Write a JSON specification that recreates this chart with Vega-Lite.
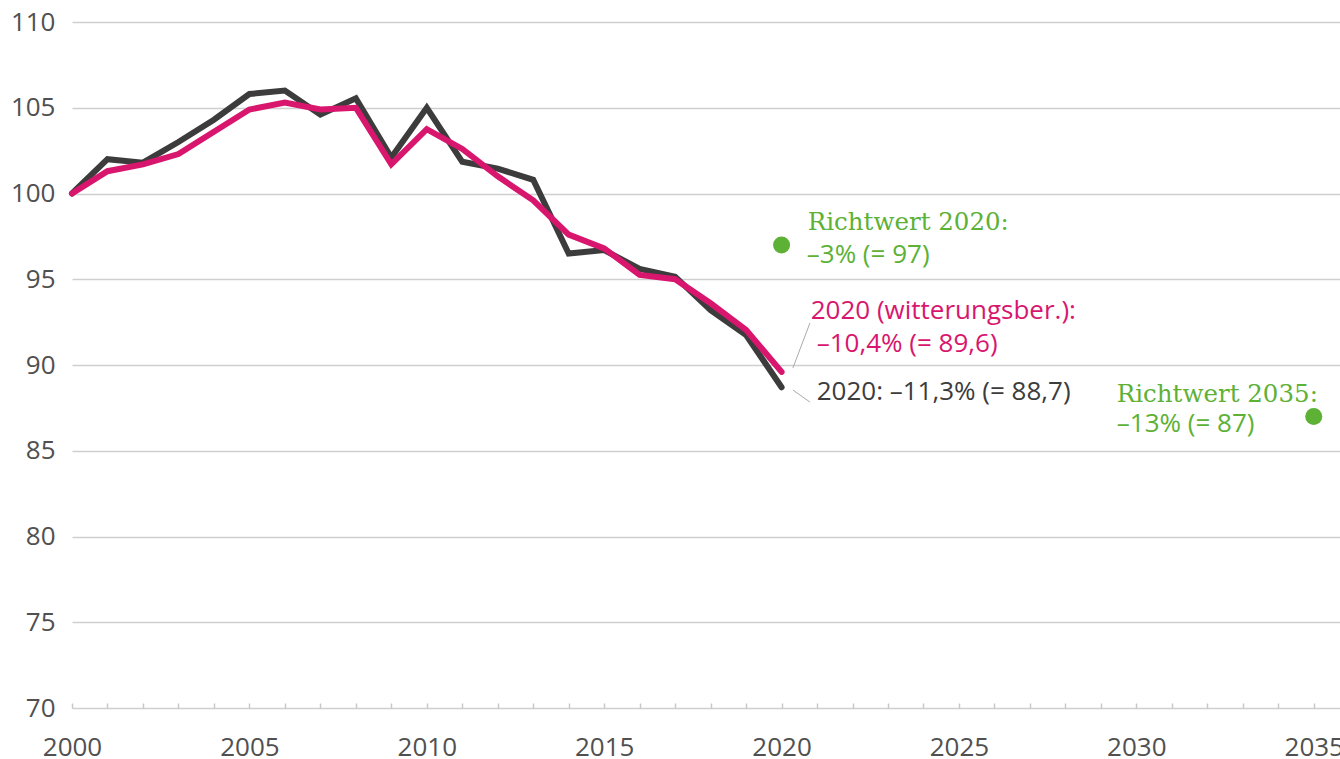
{
  "$schema": "https://vega.github.io/schema/vega-lite/v6.json",
  "width": 1268,
  "height": 686,
  "autosize": "none",
  "padding": {"left": 72, "top": 22, "right": 0, "bottom": 51},
  "background": "white",
  "config": {
    "view": {"stroke": null},
    "font": "Open Sans"
  },
  "datasets": {
    "gemessen": [
      {"x": 2000, "y": 100.0, "series": "gemessen"},
      {"x": 2001, "y": 102.0, "series": "gemessen"},
      {"x": 2002, "y": 101.8, "series": "gemessen"},
      {"x": 2003, "y": 103.0, "series": "gemessen"},
      {"x": 2004, "y": 104.3, "series": "gemessen"},
      {"x": 2005, "y": 105.8, "series": "gemessen"},
      {"x": 2006, "y": 106.0, "series": "gemessen"},
      {"x": 2007, "y": 104.6, "series": "gemessen"},
      {"x": 2008, "y": 105.55, "series": "gemessen"},
      {"x": 2009, "y": 102.1, "series": "gemessen"},
      {"x": 2010, "y": 105.0, "series": "gemessen"},
      {"x": 2011, "y": 101.85, "series": "gemessen"},
      {"x": 2012, "y": 101.45, "series": "gemessen"},
      {"x": 2013, "y": 100.8, "series": "gemessen"},
      {"x": 2014, "y": 96.5, "series": "gemessen"},
      {"x": 2015, "y": 96.7, "series": "gemessen"},
      {"x": 2016, "y": 95.6, "series": "gemessen"},
      {"x": 2017, "y": 95.15, "series": "gemessen"},
      {"x": 2018, "y": 93.2, "series": "gemessen"},
      {"x": 2019, "y": 91.75, "series": "gemessen"},
      {"x": 2020, "y": 88.7, "series": "gemessen"}
    ],
    "witterung": [
      {"x": 2000, "y": 100.0, "series": "witterungsbereinigt"},
      {"x": 2001, "y": 101.3, "series": "witterungsbereinigt"},
      {"x": 2002, "y": 101.7, "series": "witterungsbereinigt"},
      {"x": 2003, "y": 102.3, "series": "witterungsbereinigt"},
      {"x": 2004, "y": 103.6, "series": "witterungsbereinigt"},
      {"x": 2005, "y": 104.9, "series": "witterungsbereinigt"},
      {"x": 2006, "y": 105.3, "series": "witterungsbereinigt"},
      {"x": 2007, "y": 104.9, "series": "witterungsbereinigt"},
      {"x": 2008, "y": 105.0, "series": "witterungsbereinigt"},
      {"x": 2009, "y": 101.7, "series": "witterungsbereinigt"},
      {"x": 2010, "y": 103.75, "series": "witterungsbereinigt"},
      {"x": 2011, "y": 102.6, "series": "witterungsbereinigt"},
      {"x": 2012, "y": 101.0, "series": "witterungsbereinigt"},
      {"x": 2013, "y": 99.6, "series": "witterungsbereinigt"},
      {"x": 2014, "y": 97.6, "series": "witterungsbereinigt"},
      {"x": 2015, "y": 96.8, "series": "witterungsbereinigt"},
      {"x": 2016, "y": 95.25, "series": "witterungsbereinigt"},
      {"x": 2017, "y": 95.0, "series": "witterungsbereinigt"},
      {"x": 2018, "y": 93.6, "series": "witterungsbereinigt"},
      {"x": 2019, "y": 92.05, "series": "witterungsbereinigt"},
      {"x": 2020, "y": 89.6, "series": "witterungsbereinigt"}
    ],
    "richtwerte": [
      {"x": 2020, "y": 97, "series": "Richtwert"},
      {"x": 2035, "y": 87, "series": "Richtwert"}
    ],
    "leaders": [
      {"x": 2020.32, "y": 89.83, "x2": 2020.8, "y2": 92.45},
      {"x": 2020.32, "y": 88.54, "x2": 2020.8, "y2": 87.84}
    ],
    "labelsSans": [
      {"x": 2020.82, "y": 92.68, "text": "2020 (witterungsber.):", "series": "witterungsbereinigt"},
      {"x": 2020.99, "y": 90.76, "text": "–10,4% (= 89,6)", "series": "witterungsbereinigt"},
      {"x": 2020.99, "y": 87.96, "text": "2020: –11,3% (= 88,7)", "series": "gemessen"},
      {"x": 2020.71, "y": 95.95, "text": "–3% (= 97)", "series": "Richtwert"},
      {"x": 2029.45, "y": 86.09, "text": "–13% (= 87)", "series": "Richtwert"}
    ],
    "labelsSerif": [
      {"x": 2020.74, "y": 97.87, "text": "Richtwert 2020:", "series": "Richtwert"},
      {"x": 2029.45, "y": 87.84, "text": "Richtwert 2035:", "series": "Richtwert"}
    ]
  },
  "encoding": {
    "x": {
      "field": "x",
      "type": "quantitative",
      "scale": {"domain": [2000, 2035.74], "nice": false, "zero": false},
      "axis": {
        "title": null,
        "values": [2000,2001,2002,2003,2004,2005,2006,2007,2008,2009,2010,2011,2012,2013,2014,2015,2016,2017,2018,2019,2020,2021,2022,2023,2024,2025,2026,2027,2028,2029,2030,2031,2032,2033,2034,2035],
        "format": "d",
        "labelExpr": "datum.value % 5 === 0 ? datum.label : ''",
        "grid": false,
        "domain": false,
        "ticks": true,
        "tickSize": -5,
        "tickColor": "#c8c8c8",
        "tickWidth": 1.5,
        "labelPadding": 31,
        "labelFontSize": 26,
        "labelFontWeight": 400,
        "labelColor": "#505050",
        "labelFlush": false,
        "labelOverlap": false,
        "labelBound": false
      }
    },
    "y": {
      "field": "y",
      "type": "quantitative",
      "scale": {"domain": [70, 110], "nice": false, "zero": false},
      "axis": {
        "title": null,
        "values": [70, 75, 80, 85, 90, 95, 100, 105, 110],
        "grid": true,
        "gridColor": "#cfcfcf",
        "gridWidth": 1.5,
        "domain": false,
        "ticks": false,
        "labelPadding": 17,
        "labelFontSize": 26,
        "labelFontWeight": 400,
        "labelColor": "#505050"
      }
    }
  },
  "layer": [
    {
      "data": {"name": "leaders"},
      "mark": {"type": "rule", "color": "#aaaaaa", "strokeWidth": 1},
      "encoding": {
        "x2": {"field": "x2"},
        "y2": {"field": "y2"}
      }
    },
    {
      "data": {"name": "gemessen"},
      "mark": {"type": "line", "strokeWidth": 6, "strokeJoin": "miter", "strokeCap": "round"},
      "encoding": {
        "color": {"field": "series", "type": "nominal", "legend": null,
          "scale": {"domain": ["gemessen", "witterungsbereinigt", "Richtwert"], "range": ["#3c3c3c", "#d8166e", "#5db135"]}}
      }
    },
    {
      "data": {"name": "witterung"},
      "mark": {"type": "line", "strokeWidth": 6, "strokeJoin": "miter", "strokeCap": "round"},
      "encoding": {
        "color": {"field": "series", "type": "nominal", "legend": null}
      }
    },
    {
      "data": {"name": "richtwerte"},
      "mark": {"type": "circle", "size": 290, "opacity": 1},
      "encoding": {
        "color": {"field": "series", "type": "nominal", "legend": null}
      }
    },
    {
      "data": {"name": "labelsSans"},
      "mark": {"type": "text", "align": "left", "baseline": "alphabetic", "fontSize": 26, "font": "Open Sans", "fontWeight": 400},
      "encoding": {
        "text": {"field": "text"},
        "color": {"field": "series", "type": "nominal", "legend": null}
      }
    },
    {
      "data": {"name": "labelsSerif"},
      "mark": {"type": "text", "align": "left", "baseline": "alphabetic", "fontSize": 24.5, "font": "DejaVu Serif"},
      "encoding": {
        "text": {"field": "text"},
        "color": {"field": "series", "type": "nominal", "legend": null}
      }
    }
  ]
}
